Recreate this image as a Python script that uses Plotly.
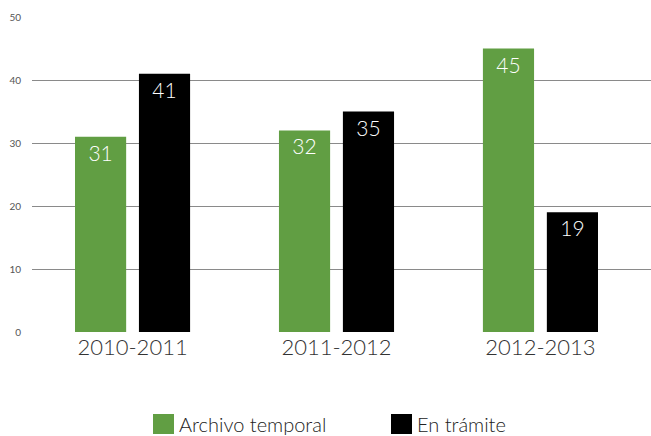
import plotly.graph_objects as go

periods = ["2010-2011", "2011-2012", "2012-2013"]
archivo_temporal = [31, 32, 45]
en_tramite = [41, 35, 19]
series_names = ["Archivo temporal", "En trámite"]
colors = ["#619E43", "#000000"]
y_ticks = [0, 10, 20, 30, 40, 50]

FONT = "Lato"
PLOT_W, PLOT_H = 619, 315

fig = go.Figure()
for name, vals, col in zip(series_names, [archivo_temporal, en_tramite], colors):
    fig.add_trace(go.Bar(
        x=periods, y=vals, name=name, marker_color=col,
        marker_line_width=0,
        text=[str(v) for v in vals], textposition="inside",
        insidetextanchor="end", textangle=0,
        textfont=dict(family=FONT, size=21, color="white", weight=300),
        showlegend=False,
    ))

# custom legend: squares + labels under the plot
legend_items = [(121 / PLOT_W, series_names[0], colors[0]),
                (359 / PLOT_W, series_names[1], colors[1])]
for x0, label, col in legend_items:
    w = 21 / PLOT_W
    fig.add_shape(type="rect", xref="paper", yref="paper",
                  x0=x0, x1=x0 + w, y0=-82 / PLOT_H, y1=-102 / PLOT_H,
                  fillcolor=col, line_width=0)
    fig.add_annotation(xref="paper", yref="paper", x=x0 + w + 3 / PLOT_W, y=-92 / PLOT_H,
                       text=label, showarrow=False, xanchor="left", yanchor="middle",
                       font=dict(family=FONT, size=20, color="#222", weight=300))

fig.update_layout(
    width=651, height=436,
    margin=dict(l=32, r=0, t=17, b=104),
    plot_bgcolor="white", paper_bgcolor="white",
    barmode="group", bargap=0.373, bargroupgap=0.2,
    xaxis=dict(range=[-0.493, 2.542], showgrid=False, zeroline=False,
               showline=False, ticks="",
               tickfont=dict(family=FONT, size=22, color="#333", weight=300)),
    yaxis=dict(range=[0, 50], tickvals=y_ticks, showgrid=True,
               gridcolor="#8a8a8a", gridwidth=1, zeroline=False,
               showline=False, ticklabelstandoff=10,
               tickfont=dict(family=FONT, size=10, color="#555")),
)

fig.write_html("out.html")
